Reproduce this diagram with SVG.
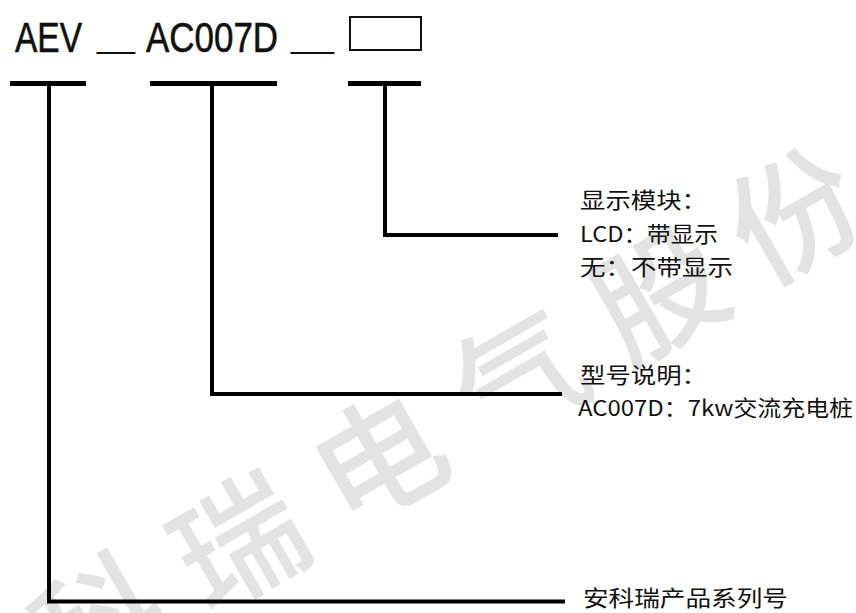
<svg xmlns="http://www.w3.org/2000/svg" width="856" height="613" viewBox="0 0 856 613">
  <style>
    .wm { font-family: "Noto Sans CJK SC", "Noto Sans CJK TC", sans-serif; font-size: 128px; font-weight: 500; fill: #e3e3e3; text-anchor: middle; dominant-baseline: central; }
    .code { font-family: "Liberation Sans", "Noto Sans CJK SC", sans-serif; font-size: 42px; fill: #111; stroke: #111; stroke-width: 0.6; }
    .us { font-family: "Liberation Sans", sans-serif; font-size: 30px; fill: #111; }
    .lbl { font-family: "Noto Sans CJK SC", "Liberation Sans", sans-serif; font-size: 22px; fill: #111; }
    .bar { stroke: #000; stroke-width: 5; fill: none; }
    .conn { stroke: #000; stroke-width: 4; fill: none; stroke-linejoin: miter; }
  </style>
  <rect x="0" y="0" width="856" height="613" fill="#fff"/>
  <g id="watermark">
    <text class="wm" transform="translate(95,615) rotate(-30)">科</text>
    <text class="wm" transform="translate(235,535) rotate(-30)">瑞</text>
    <text class="wm" transform="translate(375,452) rotate(-30)">电</text>
    <text class="wm" transform="translate(515,370) rotate(-30)">气</text>
    <text class="wm" transform="translate(655,288) rotate(-30)">股</text>
    <text class="wm" transform="translate(790,208) rotate(-30)">份</text>
  </g>
  <g id="code">
    <text class="code" transform="translate(15,52) scale(0.797,1)" x="0" y="0">AEV</text>
    <text class="us" x="97" y="47.5" textLength="38" lengthAdjust="spacingAndGlyphs">__</text>
    <text class="code" transform="translate(146,52) scale(0.832,1)" x="0" y="0">AC007D</text>
    <text class="us" x="291" y="47.5" textLength="43" lengthAdjust="spacingAndGlyphs">__</text>
    <rect x="350" y="17" width="71" height="33" fill="none" stroke="#111" stroke-width="2"/>
  </g>
  <g id="bars">
    <line class="bar" x1="10" y1="83.5" x2="86" y2="83.5"/>
    <line class="bar" x1="150" y1="83.5" x2="277" y2="83.5"/>
    <line class="bar" x1="348" y1="83.5" x2="421" y2="83.5"/>
  </g>
  <g id="connectors">
    <path class="conn" d="M49,83 V601.5 H565"/>
    <path class="conn" d="M212,83 V394 H562"/>
    <path class="conn" d="M385,83 V235 H558"/>
  </g>
  <g id="label-display">
    <text class="lbl" x="580" y="207.5" textLength="127" lengthAdjust="spacingAndGlyphs">显示模块：</text>
    <text class="lbl" x="580" y="241.5" textLength="138" lengthAdjust="spacingAndGlyphs">LCD：带显示</text>
    <text class="lbl" x="580" y="274.5" textLength="153" lengthAdjust="spacingAndGlyphs">无：不带显示</text>
  </g>
  <g id="label-model">
    <text class="lbl" x="580" y="382.5" textLength="127" lengthAdjust="spacingAndGlyphs">型号说明：</text>
    <text class="lbl" x="578" y="415.5" textLength="275" lengthAdjust="spacingAndGlyphs">AC007D：7kw交流充电桩</text>
  </g>
  <g id="label-series">
    <text class="lbl" x="583" y="605.5" textLength="205" lengthAdjust="spacingAndGlyphs">安科瑞产品系列号</text>
  </g>
</svg>
